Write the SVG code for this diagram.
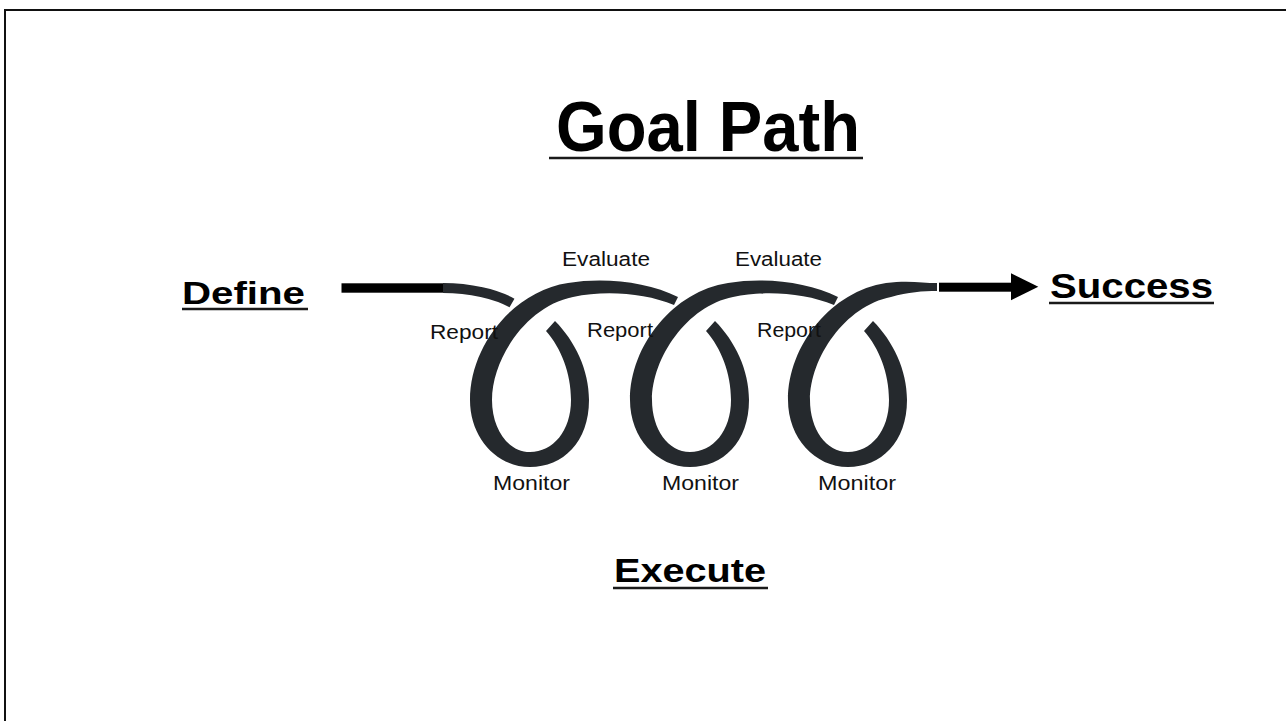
<svg xmlns="http://www.w3.org/2000/svg" width="1286" height="721" viewBox="0 0 1286 721">
  <style>
    .big { font-family: "Liberation Sans", Arial, sans-serif; font-weight: bold; fill: #000; }
    .lbl { font-family: "Liberation Sans", Arial, sans-serif; font-size: 20px; fill: #111; }
    .ul { stroke: #1a1a1a; stroke-width: 2.5; }
    .coil { fill: #25292d; }
  </style>
  <defs>
    <path id="loopBody" d="M 555,321 C 575,341 589,370 589,400 C 589,442 563,467 530,467 C 497,467 470,438 470,400 C 470,345 514,291 568,283 C 605,277 648,282 678,297 L 674,305 C 645,293 605,290 573,297 C 527,306 492,358 492,400 C 492,429 508,452 530,452 C 553,452 571,431 571,400 C 571,373 561,348 546,331 Z"/>
  </defs>
  <rect x="0" y="0" width="1286" height="721" fill="#fff"/>
  <rect x="5" y="10" width="1300" height="800" fill="none" stroke="#111" stroke-width="2"/>

  <g id="connectors">
    <rect x="341.5" y="283.3" width="101.5" height="9.4" fill="#000"/>
    <path d="M 443,288 C 470,288 496,294 512,303" fill="none" stroke="#25292d" stroke-width="10"/>
    <use href="#loopBody" class="coil"/>
    <use href="#loopBody" class="coil" transform="translate(160,0)"/>
    <path class="coil" transform="translate(318,0)" d="M 555,321 C 575,341 589,370 589,400 C 589,442 563,467 530,467 C 497,467 470,438 470,400 C 470,345 514,291 568,283 C 590,280 605,283 619,283 L 619,291 C 605,291 590,292 573,297 C 527,306 492,358 492,400 C 492,429 508,452 530,452 C 553,452 571,431 571,400 C 571,373 561,348 546,331 Z"/>
    <rect x="939" y="282.7" width="73" height="9" fill="#000"/>
    <polygon points="1011,273.3 1038.3,286.8 1011,300.3" fill="#000"/>
  </g>

  <g id="title">
    <text class="big" x="556" y="151" font-size="70" textLength="304" lengthAdjust="spacingAndGlyphs">Goal Path</text>
    <line class="ul" x1="549" y1="158" x2="863" y2="158"/>
  </g>
  <g id="define">
    <text class="big" x="182" y="304" font-size="32" textLength="123" lengthAdjust="spacingAndGlyphs">Define</text>
    <line class="ul" x1="182" y1="309" x2="308" y2="309"/>
  </g>
  <g id="success">
    <text class="big" x="1050" y="298" font-size="35" textLength="163" lengthAdjust="spacingAndGlyphs">Success</text>
    <line class="ul" x1="1049" y1="303" x2="1214" y2="303"/>
  </g>
  <g id="execute">
    <text class="big" x="614" y="582" font-size="34" textLength="152" lengthAdjust="spacingAndGlyphs">Execute</text>
    <line class="ul" x1="613" y1="588" x2="768" y2="588"/>
  </g>

  <g id="evaluate1"><text class="lbl" x="562" y="266" textLength="88" lengthAdjust="spacingAndGlyphs">Evaluate</text></g>
  <g id="evaluate2"><text class="lbl" x="735" y="266" textLength="87" lengthAdjust="spacingAndGlyphs">Evaluate</text></g>
  <g id="report1"><text class="lbl" x="430" y="339" textLength="68" lengthAdjust="spacingAndGlyphs">Report</text></g>
  <g id="report2"><text class="lbl" x="587" y="337" textLength="66" lengthAdjust="spacingAndGlyphs">Report</text></g>
  <g id="report3"><text class="lbl" x="757" y="337" textLength="64" lengthAdjust="spacingAndGlyphs">Report</text></g>
  <g id="monitor1"><text class="lbl" x="493" y="490" textLength="77" lengthAdjust="spacingAndGlyphs">Monitor</text></g>
  <g id="monitor2"><text class="lbl" x="662" y="490" textLength="77" lengthAdjust="spacingAndGlyphs">Monitor</text></g>
  <g id="monitor3"><text class="lbl" x="818" y="490" textLength="78" lengthAdjust="spacingAndGlyphs">Monitor</text></g>
</svg>
